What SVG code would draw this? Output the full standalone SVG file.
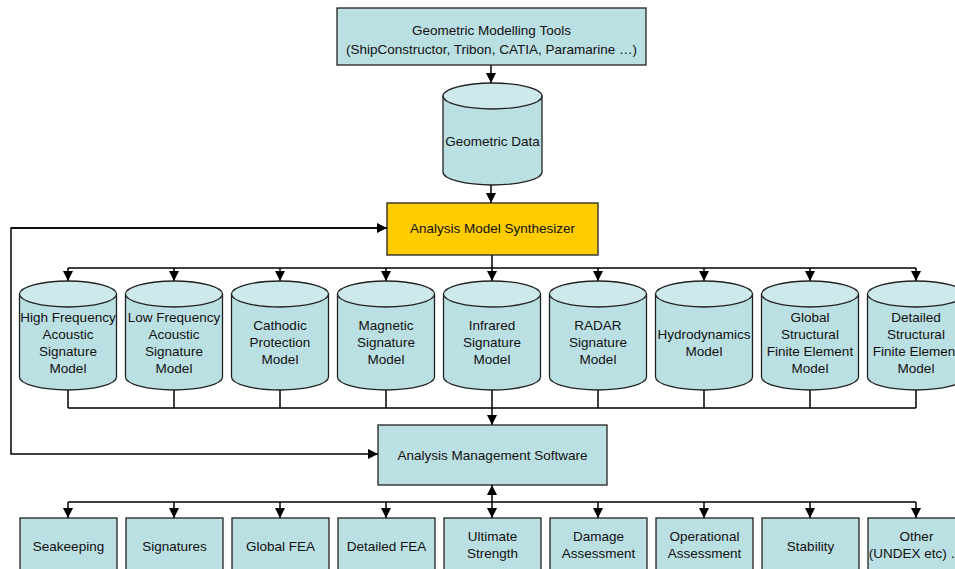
<svg xmlns="http://www.w3.org/2000/svg" width="955" height="569" viewBox="0 0 955 569">
<defs>
<style>
text{font-family:"Liberation Sans",Arial,sans-serif;font-size:13.5px;fill:#111;text-anchor:middle}
.box{fill:#bbe0e3;stroke:#222;stroke-width:1.3}
.syn{fill:#ffcc00;stroke:#222;stroke-width:1.3}
.body{fill:#bbe0e3;stroke:#222;stroke-width:1.3}
.top{fill:#cde9eb;stroke:#222;stroke-width:1.3}
.ln{fill:none;stroke:#000;stroke-width:1.5}
</style>
<marker id="ah" viewBox="0 0 10 10" refX="10" refY="5" markerWidth="10" markerHeight="10" markerUnits="userSpaceOnUse" orient="auto">
<path d="M0,0 L10,5 L0,10 Z" fill="#000"/>
</marker>
<symbol id="cyl" overflow="visible">
<path class="body" d="M-48.5,294 L-48.5,377 A48.5,13 0 0 0 48.5,377 L48.5,294 Z"/>
<ellipse class="top" cx="0" cy="294" rx="48.5" ry="13"/>
</symbol>
</defs>
<rect width="955" height="569" fill="#fff"/>
<g id="connectors">
<line class="ln" x1="491" y1="65" x2="491" y2="83" marker-end="url(#ah)"/>
<line class="ln" x1="491" y1="185" x2="491" y2="203" marker-end="url(#ah)"/>
<line class="ln" x1="492" y1="255" x2="492" y2="268"/>
<line class="ln" x1="68" y1="268" x2="916" y2="268"/>
<line class="ln" x1="68" y1="268" x2="68" y2="281" marker-end="url(#ah)"/>
<line class="ln" x1="174" y1="268" x2="174" y2="281" marker-end="url(#ah)"/>
<line class="ln" x1="280" y1="268" x2="280" y2="281" marker-end="url(#ah)"/>
<line class="ln" x1="386" y1="268" x2="386" y2="281" marker-end="url(#ah)"/>
<line class="ln" x1="492" y1="268" x2="492" y2="281" marker-end="url(#ah)"/>
<line class="ln" x1="598" y1="268" x2="598" y2="281" marker-end="url(#ah)"/>
<line class="ln" x1="704" y1="268" x2="704" y2="281" marker-end="url(#ah)"/>
<line class="ln" x1="810" y1="268" x2="810" y2="281" marker-end="url(#ah)"/>
<line class="ln" x1="916" y1="268" x2="916" y2="281" marker-end="url(#ah)"/>
<path class="ln" d="M68,390 V408 M174,390 V408 M280,390 V408 M386,390 V408 M492,390 V408 M598,390 V408 M704,390 V408 M810,390 V408 M916,390 V408 M68,408 H916"/>
<line class="ln" x1="492" y1="408" x2="492" y2="425" marker-end="url(#ah)"/>
<path class="ln" d="M387,228 H11 V454 H378" marker-end="url(#ah)"/>
<line class="ln" x1="11" y1="228" x2="387" y2="228" marker-end="url(#ah)"/>
<line class="ln" x1="492" y1="502" x2="492" y2="485" marker-end="url(#ah)"/>
<line class="ln" x1="68" y1="502" x2="916" y2="502"/>
<line class="ln" x1="68" y1="502" x2="68" y2="518" marker-end="url(#ah)"/>
<line class="ln" x1="174" y1="502" x2="174" y2="518" marker-end="url(#ah)"/>
<line class="ln" x1="280" y1="502" x2="280" y2="518" marker-end="url(#ah)"/>
<line class="ln" x1="386" y1="502" x2="386" y2="518" marker-end="url(#ah)"/>
<line class="ln" x1="492" y1="502" x2="492" y2="518" marker-end="url(#ah)"/>
<line class="ln" x1="598" y1="502" x2="598" y2="518" marker-end="url(#ah)"/>
<line class="ln" x1="704" y1="502" x2="704" y2="518" marker-end="url(#ah)"/>
<line class="ln" x1="810" y1="502" x2="810" y2="518" marker-end="url(#ah)"/>
<line class="ln" x1="916" y1="502" x2="916" y2="518" marker-end="url(#ah)"/>
</g>
<g id="tools">
<rect class="box" x="337" y="8" width="309" height="57"/>
<text x="491.5" y="35">Geometric Modelling Tools</text>
<text x="491.5" y="54">(ShipConstructor, Tribon, CATIA, Paramarine …)</text>
</g>
<g id="geodata">
<path class="body" d="M443,96 L443,172 A49.5,13 0 0 0 542,172 L542,96 Z"/>
<ellipse class="top" cx="492.5" cy="96" rx="49.5" ry="13"/>
<text x="492.5" y="146">Geometric Data</text>
</g>
<g id="synth">
<rect class="syn" x="387" y="203" width="211" height="52"/>
<text x="492.5" y="233">Analysis Model Synthesizer</text>
</g>
<g id="m1"><use href="#cyl" x="68"/><text x="68" y="322">High Frequency</text><text x="68" y="339">Acoustic</text><text x="68" y="356">Signature</text><text x="68" y="373">Model</text></g>
<g id="m2"><use href="#cyl" x="174"/><text x="174" y="322">Low Frequency</text><text x="174" y="339">Acoustic</text><text x="174" y="356">Signature</text><text x="174" y="373">Model</text></g>
<g id="m3"><use href="#cyl" x="280"/><text x="280" y="330">Cathodic</text><text x="280" y="347">Protection</text><text x="280" y="364">Model</text></g>
<g id="m4"><use href="#cyl" x="386"/><text x="386" y="330">Magnetic</text><text x="386" y="347">Signature</text><text x="386" y="364">Model</text></g>
<g id="m5"><use href="#cyl" x="492"/><text x="492" y="330">Infrared</text><text x="492" y="347">Signature</text><text x="492" y="364">Model</text></g>
<g id="m6"><use href="#cyl" x="598"/><text x="598" y="330">RADAR</text><text x="598" y="347">Signature</text><text x="598" y="364">Model</text></g>
<g id="m7"><use href="#cyl" x="704"/><text x="704" y="339">Hydrodynamics</text><text x="704" y="356">Model</text></g>
<g id="m8"><use href="#cyl" x="810"/><text x="810" y="322">Global</text><text x="810" y="339">Structural</text><text x="810" y="356">Finite Element</text><text x="810" y="373">Model</text></g>
<g id="m9"><use href="#cyl" x="916"/><text x="916" y="322">Detailed</text><text x="916" y="339">Structural</text><text x="916" y="356">Finite Element</text><text x="916" y="373">Model</text></g>
<g id="ams">
<rect class="box" x="378" y="425" width="229" height="60"/>
<text x="492.5" y="460">Analysis Management Software</text>
</g>
<g id="a1"><rect class="box" x="20" y="518" width="97" height="60"/><text x="68.5" y="551">Seakeeping</text></g>
<g id="a2"><rect class="box" x="126" y="518" width="97" height="60"/><text x="174.5" y="551">Signatures</text></g>
<g id="a3"><rect class="box" x="232" y="518" width="97" height="60"/><text x="280.5" y="551">Global FEA</text></g>
<g id="a4"><rect class="box" x="338" y="518" width="97" height="60"/><text x="386.5" y="551">Detailed FEA</text></g>
<g id="a5"><rect class="box" x="444" y="518" width="97" height="60"/><text x="492.5" y="541">Ultimate</text><text x="492.5" y="558">Strength</text></g>
<g id="a6"><rect class="box" x="550" y="518" width="97" height="60"/><text x="598.5" y="541">Damage</text><text x="598.5" y="558">Assessment</text></g>
<g id="a7"><rect class="box" x="656" y="518" width="97" height="60"/><text x="704.5" y="541">Operational</text><text x="704.5" y="558">Assessment</text></g>
<g id="a8"><rect class="box" x="762" y="518" width="97" height="60"/><text x="810.5" y="551">Stability</text></g>
<g id="a9"><rect class="box" x="868" y="518" width="97" height="60"/><text x="916.5" y="541">Other</text><text x="916.5" y="558">(UNDEX etc) …</text></g>
</svg>
